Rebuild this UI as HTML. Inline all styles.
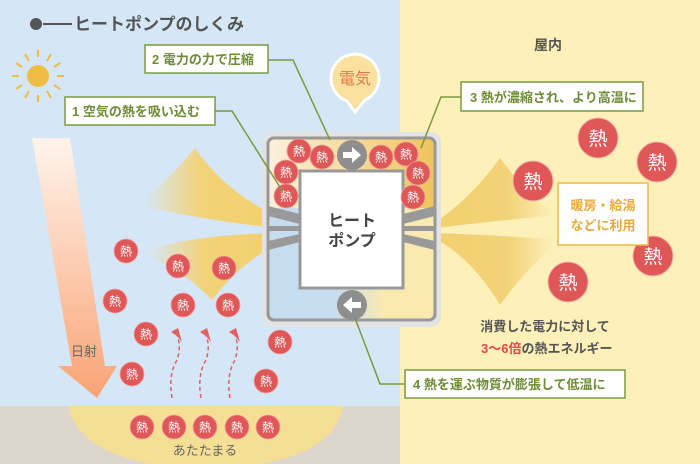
<!DOCTYPE html>
<html><head><meta charset="utf-8"><style>
html,body{margin:0;padding:0;width:700px;height:464px;overflow:hidden}
svg text{font-family:"Liberation Sans","Noto Sans CJK JP",sans-serif}
</style></head><body>
<svg width="700" height="464" viewBox="0 0 700 464" xmlns="http://www.w3.org/2000/svg">
<defs>
<linearGradient id="sunray" x1="0" y1="0" x2="0" y2="1"><stop offset="0" stop-color="#fff4ec"/><stop offset="1" stop-color="#f9a374"/></linearGradient>
<linearGradient id="fanL" x1="0" y1="0" x2="1" y2="0"><stop offset="0.05" stop-color="#f3d378" stop-opacity="0"/><stop offset="0.4" stop-color="#f3d378"/><stop offset="1" stop-color="#f3cf6e"/></linearGradient>
<linearGradient id="fanR" x1="1" y1="0" x2="0" y2="0"><stop offset="0.05" stop-color="#f3d378" stop-opacity="0"/><stop offset="0.4" stop-color="#f3d378"/><stop offset="1" stop-color="#f3cf6e"/></linearGradient>
<linearGradient id="top" x1="0" y1="0" x2="1" y2="0"><stop offset="0" stop-color="#fcf0de"/><stop offset="1" stop-color="#efc55a"/></linearGradient>
<linearGradient id="bot" x1="0" y1="0" x2="1" y2="0"><stop offset="0.4" stop-color="#c6dcef"/><stop offset="0.7" stop-color="#fbeab0"/></linearGradient>
<g id="h"><circle r="12" fill="#e05758" stroke="#f3a0a0" stroke-width="0.8"/><text y="4.5" text-anchor="middle" font-size="12" fill="#fff">熱</text></g>
<g id="H"><circle r="20" fill="#e05758" stroke="#f6b2a8" stroke-width="1"/><text y="7" text-anchor="middle" font-size="19" fill="#fff">熱</text></g>
</defs>
<rect x="0" y="0" width="400" height="464" fill="#d5e7f6"/>
<rect x="400" y="0" width="300" height="464" fill="#fdf0b9"/>
<rect x="0" y="406" width="400" height="58" fill="#dcd6cd"/>
<path d="M68 406 L343 406 Q335 464 205 470 Q80 464 68 406Z" fill="#f5df95"/>
<circle cx="36" cy="24" r="6" fill="#555"/>
<line x1="43" y1="24" x2="72" y2="24" stroke="#555" stroke-width="2"/>
<text x="74" y="30" font-size="17" font-weight="bold" fill="#555">ヒートポンプのしくみ</text>
<text x="548" y="50" font-size="14" font-weight="bold" fill="#555" text-anchor="middle">屋内</text>
<circle cx="38" cy="76" r="11" fill="#efbd45"/>
<g stroke="#efbd45" stroke-width="2">
<line x1="38" y1="50" x2="38" y2="57"/><line x1="38" y1="95" x2="38" y2="102"/>
<line x1="12" y1="76" x2="19" y2="76"/><line x1="57" y1="76" x2="64" y2="76"/>
<line x1="25" y1="54" x2="29" y2="61"/><line x1="47" y1="91" x2="51" y2="98"/>
<line x1="51" y1="54" x2="47" y2="61"/><line x1="29" y1="91" x2="25" y2="98"/>
<line x1="16" y1="63" x2="22" y2="67"/><line x1="54" y1="85" x2="60" y2="89"/>
<line x1="60" y1="63" x2="54" y2="67"/><line x1="22" y1="85" x2="16" y2="89"/>
</g>
<path d="M32 138 L70 138 L105 366 L117 366 L97 398 L58 366 L72 366Z" fill="url(#sunray)"/>
<text x="71" y="356" font-size="13" fill="#666">日射</text>
<path d="M300 226 Q230 200 195 148 Q160 190 135 205 Q230 225 300 230Z" fill="url(#fanL)"/>
<path d="M300 233 Q200 232 140 252 Q190 275 212 300 Q250 250 300 236Z" fill="url(#fanL)"/>
<path d="M430 226 Q470 200 500 158 Q535 205 560 215 Q480 222 430 229Z" fill="url(#fanR)"/>
<path d="M430 233 Q500 235 560 240 Q525 270 500 305 Q470 255 430 236Z" fill="url(#fanR)"/>
<rect x="262" y="132" width="179" height="195" rx="10" fill="#e3e3e3"/>
<rect x="268" y="138" width="167" height="182" rx="6" fill="url(#bot)" stroke="#999" stroke-width="3"/>
<path d="M268 144 Q268 138 274 138 L429 138 Q435 138 435 144 L435 208 L268 208Z" fill="url(#top)"/>
<rect x="268" y="138" width="167" height="182" rx="6" fill="none" stroke="#999" stroke-width="3"/>
<g fill="#999">
<path d="M268 206 L300 214 L300 224 L268 216Z"/><rect x="268" y="226" width="32" height="5"/><path d="M268 241 L300 234 L300 242 L268 250Z"/>
<path d="M435 206 L403 214 L403 224 L435 216Z"/><rect x="403" y="226" width="32" height="5"/><path d="M435 241 L403 234 L403 242 L435 250Z"/>
</g>
<rect x="300" y="171" width="103" height="117" fill="#fff" stroke="#999" stroke-width="3"/>
<text x="352" y="226" font-size="16" font-weight="bold" fill="#444" text-anchor="middle">ヒート</text>
<text x="352" y="246" font-size="16" font-weight="bold" fill="#444" text-anchor="middle">ポンプ</text>
<use href="#h" x="299" y="151"/><use href="#h" x="322" y="157"/><use href="#h" x="286" y="172"/><use href="#h" x="286" y="196"/>
<use href="#h" x="381" y="157"/><use href="#h" x="406" y="154"/><use href="#h" x="418" y="173"/><use href="#h" x="413" y="197"/>
<circle cx="352" cy="155" r="15" fill="#8e8e8e"/>
<path d="M343 152 L352 152 L352 147 L361 155 L352 163 L352 158 L343 158Z" fill="#fff"/>
<circle cx="352" cy="305" r="15" fill="#8e8e8e"/>
<path d="M361 302 L352 302 L352 297 L343 305 L352 313 L352 308 L361 308Z" fill="#fff"/>
<path d="M331 78 A24 24 0 1 1 365 100 L355 112 L347 101 A24 24 0 0 1 331 78Z" fill="#fbe19e" stroke="#fff" stroke-width="3"/>
<text x="355" y="84" font-size="16" fill="#e0794a" text-anchor="middle">電気</text>
<g stroke="#7a9a40" stroke-width="1.5" fill="none">
<polyline points="268,60 293,60 330,140"/>
<polyline points="215,111 232,111 283,192"/>
<polyline points="461,97 441,97 421,148"/>
<polyline points="405,384 380,384 355,318"/>
</g>
<g fill="#fff" stroke="#7a9a40" stroke-width="1.5">
<rect x="145" y="45" width="123" height="28"/>
<rect x="65" y="97" width="150" height="28"/>
<rect x="461" y="82" width="182" height="29"/>
<rect x="405" y="370" width="220" height="28"/>
</g>
<g font-size="13" font-weight="bold" fill="#6f8c36">
<text x="152" y="64">2 電力の力で圧縮</text>
<text x="72" y="116">1 空気の熱を吸い込む</text>
<text x="470" y="102">3 熱が濃縮され、より高温に</text>
<text x="413" y="389">4 熱を運ぶ物質が膨張して低温に</text>
</g>
<use href="#H" x="598" y="138"/><use href="#H" x="657" y="162"/><use href="#H" x="533" y="181"/><use href="#H" x="653" y="256"/><use href="#H" x="568" y="282"/>
<rect x="558" y="183" width="90" height="62" fill="#fff" stroke="#ecba4a" stroke-width="1.5"/>
<text x="603" y="210" font-size="13" font-weight="bold" fill="#e8ab3c" text-anchor="middle">暖房・給湯</text>
<text x="603" y="230" font-size="13" font-weight="bold" fill="#e8ab3c" text-anchor="middle">などに利用</text>
<text x="545" y="331" font-size="13" font-weight="bold" fill="#555" text-anchor="middle">消費した電力に対して</text>
<text x="481" y="353" font-size="13" font-weight="bold" fill="#555"><tspan fill="#e5484d">3〜6倍</tspan>の熱エネルギー</text>
<use href="#h" x="126" y="251"/><use href="#h" x="178" y="266"/><use href="#h" x="224" y="268"/><use href="#h" x="115" y="301"/>
<use href="#h" x="183" y="305"/><use href="#h" x="228" y="305"/><use href="#h" x="146" y="334"/><use href="#h" x="132" y="374"/>
<use href="#h" x="280" y="342"/><use href="#h" x="266" y="381"/>
<use href="#h" x="142" y="427"/><use href="#h" x="174" y="427"/><use href="#h" x="205" y="427"/><use href="#h" x="237" y="427"/><use href="#h" x="268" y="427"/>
<text x="205" y="455" font-size="13" fill="#666" text-anchor="middle">あたたまる</text>
<g stroke="#e06060" stroke-width="1.5" fill="none" stroke-dasharray="4 3">
<path d="M172 398 Q168 375 177 360 Q182 345 176 333"/>
<path d="M201 398 Q197 375 206 360 Q211 345 205 333"/>
<path d="M230 398 Q226 375 235 360 Q240 345 234 333"/>
</g>
<g fill="#e06060">
<path d="M171 332 L178 328 L182 342 L177 336Z"/>
<path d="M200 332 L207 328 L211 342 L206 336Z"/>
<path d="M229 332 L236 328 L240 342 L235 336Z"/>
</g>
</svg>
</body></html>
